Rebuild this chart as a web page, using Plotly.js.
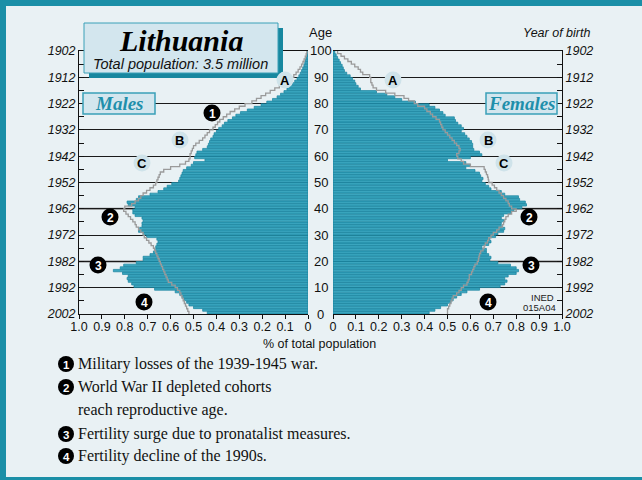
<!DOCTYPE html>
<html><head><meta charset="utf-8">
<script src="https://cdn.plot.ly/plotly-3.0.1.min.js"></script>
<style>html,body{margin:0;padding:0;background:#e9f1f4;}#chart{width:642px;height:480px;}</style>
</head><body><div id="chart"></div>
<script>
// ---- data ----
const ages = [0,1,2,3,4,5,6,7,8,9,10,11,12,13,14,15,16,17,18,19,20,21,22,23,24,25,26,27,28,29,30,31,32,33,34,35,36,37,38,39,40,41,42,43,44,45,46,47,48,49,50,51,52,53,54,55,56,57,58,59,60,61,62,63,64,65,66,67,68,69,70,71,72,73,74,75,76,77,78,79,80,81,82,83,84,85,86,87,88,89,90,91,92,93,94,95,96,97,98,99];
const malePct = [0.44,0.46,0.50,0.52,0.53,0.54,0.55,0.56,0.58,0.67,0.76,0.77,0.785,0.79,0.785,0.81,0.85,0.82,0.805,0.75,0.72,0.72,0.69,0.675,0.665,0.665,0.66,0.655,0.66,0.705,0.72,0.74,0.735,0.725,0.725,0.72,0.725,0.755,0.765,0.765,0.755,0.785,0.79,0.75,0.74,0.69,0.655,0.63,0.615,0.595,0.565,0.56,0.555,0.55,0.545,0.53,0.51,0.50,0.45,0.495,0.49,0.485,0.46,0.44,0.435,0.43,0.425,0.415,0.41,0.40,0.39,0.375,0.365,0.35,0.33,0.315,0.295,0.265,0.235,0.205,0.18,0.155,0.135,0.12,0.105,0.092,0.08,0.068,0.058,0.048,0.04,0.034,0.028,0.023,0.018,0.014,0.011,0.008,0.005,0.003];
const femalePct = [0.42,0.445,0.47,0.50,0.515,0.525,0.54,0.56,0.585,0.64,0.73,0.75,0.76,0.75,0.765,0.80,0.81,0.80,0.775,0.72,0.685,0.69,0.68,0.67,0.67,0.65,0.68,0.69,0.685,0.71,0.72,0.745,0.75,0.735,0.735,0.745,0.735,0.745,0.775,0.79,0.825,0.845,0.84,0.815,0.81,0.75,0.735,0.69,0.68,0.665,0.65,0.655,0.645,0.64,0.62,0.58,0.60,0.58,0.50,0.60,0.65,0.64,0.615,0.61,0.61,0.605,0.595,0.585,0.575,0.56,0.57,0.56,0.545,0.535,0.53,0.49,0.48,0.465,0.445,0.42,0.36,0.30,0.27,0.235,0.19,0.12,0.11,0.10,0.095,0.085,0.075,0.06,0.05,0.045,0.04,0.033,0.027,0.02,0.014,0.008];
const maleRef = [0.52,0.525,0.53,0.535,0.54,0.545,0.55,0.555,0.56,0.57,0.58,0.595,0.61,0.615,0.62,0.625,0.63,0.635,0.64,0.645,0.65,0.655,0.66,0.665,0.67,0.675,0.685,0.695,0.705,0.715,0.72,0.73,0.74,0.75,0.755,0.765,0.775,0.785,0.795,0.805,0.80,0.77,0.755,0.74,0.73,0.72,0.705,0.69,0.675,0.665,0.66,0.655,0.65,0.645,0.63,0.60,0.56,0.535,0.52,0.515,0.515,0.51,0.505,0.50,0.49,0.475,0.46,0.45,0.44,0.43,0.415,0.405,0.395,0.385,0.37,0.355,0.34,0.32,0.30,0.275,0.245,0.225,0.205,0.185,0.165,0.145,0.125,0.105,0.09,0.075,0.062,0.052,0.043,0.035,0.028,0.022,0.017,0.012,0.008,0.005];
const femaleRef = [0.50,0.50,0.505,0.51,0.515,0.52,0.525,0.54,0.55,0.56,0.57,0.585,0.59,0.595,0.595,0.605,0.61,0.615,0.62,0.63,0.635,0.637,0.64,0.645,0.655,0.66,0.665,0.675,0.68,0.69,0.70,0.715,0.725,0.74,0.745,0.75,0.755,0.765,0.78,0.80,0.78,0.77,0.765,0.755,0.745,0.735,0.725,0.715,0.705,0.695,0.68,0.678,0.675,0.67,0.665,0.66,0.60,0.57,0.56,0.545,0.54,0.55,0.555,0.55,0.54,0.53,0.52,0.51,0.50,0.49,0.48,0.475,0.47,0.465,0.45,0.435,0.425,0.41,0.40,0.37,0.355,0.33,0.31,0.27,0.23,0.19,0.175,0.17,0.165,0.165,0.16,0.13,0.12,0.11,0.095,0.08,0.065,0.05,0.035,0.02];
const ageTicks = [0,10,20,30,40,50,60,70,80,90,100];
const ageLabels = ['0','10','20','30','40','50','60','70','80','90','100'];
const yearLabels = ['2002','1992','1982','1972','1962','1952','1942','1932','1922','1912','1902'];
const valueTicks = [0,0.1,0.2,0.3,0.4,0.5,0.6,0.7,0.8,0.9,1.0];
const valueLabels = ['0','0.1','0.2','0.3','0.4','0.5','0.6','0.7','0.8','0.9','1.0'];
const notes = [
  ['1','Military losses of the 1939-1945 war.'],
  ['2','World War II depleted cohorts'],
  ['','reach reproductive age.'],
  ['3','Fertility surge due to pronatalist measures.'],
  ['4','Fertility decline of the 1990s.']
];

// ---- style ----
const W = 642, H = 480;
const px = x => x / W, py = y => 1 - y / H;
const SANS = 'Liberation Sans, Arial, sans-serif';
const SERIF = 'Liberation Serif, Times New Roman, serif';
const TEAL = '#1b8fa7';
const BAR = '#3aa5be', BARLINE = '#17839d';
const BG = '#e9f1f4', BOX = '#d3e6ee';
const yDom = [py(314), py(51)];

const stepY = ages.concat([ages[ages.length - 1] + 1]);
const ext = arr => arr.concat([arr[arr.length - 1]]);

const traces = [
  {type:'bar', orientation:'h', x: malePct, y: ages, xaxis:'x', yaxis:'y', width:0.92, offset:0.04,
   marker:{color:BAR, line:{color:BARLINE, width:0.7}}, hoverinfo:'skip'},
  {type:'bar', orientation:'h', x: femalePct, y: ages, xaxis:'x2', yaxis:'y2', width:0.92, offset:0.04,
   marker:{color:BAR, line:{color:BARLINE, width:0.7}}, hoverinfo:'skip'},
  {type:'scatter', mode:'lines', x: ext(maleRef), y: stepY, xaxis:'x', yaxis:'y',
   line:{color:'#9a9a9a', width:1.3, shape:'vh'}, hoverinfo:'skip'},
  {type:'scatter', mode:'lines', x: ext(femaleRef), y: stepY, xaxis:'x2', yaxis:'y2',
   line:{color:'#9a9a9a', width:1.3, shape:'vh'}, hoverinfo:'skip'}
];

const tickFont = {family:SANS, size:12.5, color:'#111'};
const yearFont = {family:SANS, size:12.5, color:'#111', style:'italic'};
const xCommon = {tickmode:'array', tickvals:valueTicks, ticktext:valueLabels, ticks:'outside', ticklen:4,
  tickcolor:'#111', showline:true, linecolor:'#111', linewidth:1, showgrid:false, zeroline:false,
  tickfont:tickFont, fixedrange:true, mirror:true, ticklabelstandoff:-3};
const yCommon = {range:[0,100], domain:yDom, tickmode:'array', tickvals:ageTicks, ticks:'inside', ticklen:5,
  tickcolor:'#111', showline:true, linecolor:'#111', linewidth:1, showgrid:true, gridcolor:'#1a1a1a',
  gridwidth:1, zeroline:false, fixedrange:true,
  minor:{tick0:0, dtick:5, ticks:'inside', ticklen:5, tickcolor:'#111', showgrid:false}};
const midTicks = {range:[0,100], tickmode:'array', tickvals:ageTicks, showticklabels:false,
  ticks:'outside', ticklen:4, tickcolor:'#111', showline:true, linecolor:'#111',
  showgrid:false, zeroline:false, fixedrange:true,
  minor:{tick0:0, dtick:5, ticks:'outside', ticklen:4, tickcolor:'#111', showgrid:false}};

const layout = {
  width:W, height:H, margin:{l:0,r:0,t:0,b:0}, paper_bgcolor:BG, plot_bgcolor:'rgba(0,0,0,0)',
  showlegend:false, bargap:0,
  xaxis: Object.assign({}, xCommon, {domain:[px(79), px(308)], range:[1,0], anchor:'y'}),
  xaxis2: Object.assign({}, xCommon, {domain:[px(333), px(562)], range:[0,1], anchor:'y2'}),
  yaxis: Object.assign({}, yCommon, {anchor:'x', side:'left', ticktext:yearLabels, tickfont:yearFont}),
  yaxis2: Object.assign({}, yCommon, {anchor:'x2', side:'right', ticktext:yearLabels, tickfont:yearFont}),
  yaxis3: Object.assign({}, midTicks, {overlaying:'y', anchor:'x', side:'right'}),
  yaxis4: Object.assign({}, midTicks, {overlaying:'y2', anchor:'x2', side:'left'}),
  shapes: [], annotations: []
};

const S = layout.shapes, A = layout.annotations;
const rect = (x0,y0,x1,y1,fill,line,lw) => S.push({type:'rect', xref:'paper', yref:'paper', layer:'above',
  x0:px(x0), x1:px(x1), y0:py(y1), y1:py(y0), fillcolor:fill, line:{color:line||fill, width:lw||0}});
const circ = (cx,cy,r,fill) => S.push({type:'circle', xref:'paper', yref:'paper', layer:'above',
  x0:px(cx-r), x1:px(cx+r), y0:py(cy+r), y1:py(cy-r), fillcolor:fill, line:{width:0}});
const text = (x,y,t,font,xa,ya) => A.push({xref:'paper', yref:'paper', x:px(x), y:py(y), text:t, showarrow:false,
  xanchor:xa||'center', yanchor:ya||'middle', font:font});

// central age labels, placed on the age scale
ageTicks.forEach((a,i) => A.push({xref:'paper', yref:'y', x:px(320.5), y:a, text:ageLabels[i], showarrow:false,
  xanchor:'center', yanchor:'middle', font:{family:SANS, size:13, color:'#111'}}));

// highlighted grid lines (ages 20 and 40)
[20,40].forEach(a => {
  S.push({type:'line', xref:'x domain', yref:'y', x0:0, x1:1, y0:a, y1:a, layer:'below', line:{color:'#858585', width:2}});
  S.push({type:'line', xref:'x2 domain', yref:'y2', x0:0, x1:1, y0:a, y1:a, layer:'below', line:{color:'#858585', width:2}});
});

// frame
rect(0,0,W,6,TEAL); rect(0,0,6,H,TEAL); rect(0,H-3,W,H,TEAL);
// title box with shadow
rect(89,28,283,78,'#17879f');
rect(84,23,278,73,BOX,'#3aa0b8',1);
text(181,40,'Lithuania',{family:SERIF, size:30, color:'#000', weight:'bold', style:'italic'});
text(181,63.5,'Total population: 3.5 million',{family:SANS, size:14.5, color:'#111', style:'italic'});
// sex boxes
rect(83,93,155,114,BOX,'#3aa0b8',1.5);
text(119,103.5,'Males',{family:SERIF, size:19, color:'#1e8fab', weight:'bold', style:'italic'});
rect(486,93,557,114,BOX,'#3aa0b8',1.5);
text(521.5,103.5,'Females',{family:SERIF, size:19, color:'#1e8fab', weight:'bold', style:'italic'});

// letter markers
const LIGHT = '#cfe3ea';
[['A',285,80],['A',393,80],['B',180,140],['B',488,140],['C',142,163],['C',504,163]].forEach(m => {
  circ(m[1],m[2],8.5,LIGHT);
  text(m[1],m[2]+0.5,m[0],{family:SANS, size:13, color:'#000', weight:'bold'});
});
// number markers
[['1',212,113],['2',110,217],['2',529,217],['3',98,265],['3',531,265],['4',144,302],['4',488,302]].forEach(m => {
  circ(m[1],m[2],8.5,'#000');
  text(m[1],m[2]+0.5,m[0],{family:SANS, size:12, color:'#fff', weight:'bold'});
});

// axis headers
text(320,33,'Age',{family:SANS, size:13, color:'#111'});
text(592,33,'Year of birth',{family:SANS, size:12.5, color:'#111', style:'italic'},'right');
text(319,344,'% of total population',{family:SANS, size:12.5, color:'#111'});
text(556,297,'INED',{family:SANS, size:9.5, color:'#222'},'right');
text(558,307.5,'015A04',{family:SANS, size:9.5, color:'#222'},'right');

// footnotes
const noteY = [364,387,410,434,456];
notes.forEach((n,i) => {
  if (n[0]) { circ(66,noteY[i],8,'#000');
    text(66,noteY[i]+0.5,n[0],{family:SANS, size:11.5, color:'#fff', weight:'bold'}); }
  text(76,noteY[i],n[1],{family:SERIF, size:16, color:'#111'},'left');
});

Plotly.newPlot('chart', traces, layout, {staticPlot:true, displayModeBar:false});
</script></body></html>
